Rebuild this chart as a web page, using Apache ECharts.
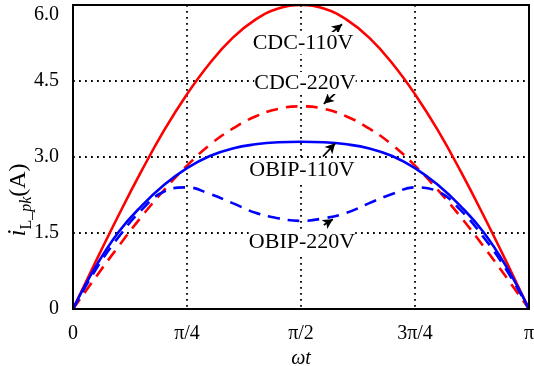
<!DOCTYPE html>
<html>
<head>
<meta charset="utf-8">
<script src="https://cdn.jsdelivr.net/npm/echarts@6/dist/echarts.min.js"></script>
<style>html,body{margin:0;padding:0;background:#fff}#c{width:534px;height:366px}</style>
</head>
<body>
<div id="c"></div>
<script>
// angle in units of pi
var angles = [0,0.05,0.1,0.15,0.2,0.25,0.3,0.35,0.4,0.45,0.5,0.55,0.6,0.65,0.7,0.75,0.8,0.85,0.9,0.95,1];
var cdc110 = [0,0.94,1.85,2.72,3.53,4.24,4.85,5.35,5.71,5.93,6.0,5.93,5.71,5.35,4.85,4.24,3.53,2.72,1.85,0.94,0];
var cdc220 = [0,0.63,1.24,1.82,2.35,2.83,3.24,3.56,3.80,3.95,4.0,3.95,3.80,3.56,3.24,2.83,2.35,1.82,1.24,0.63,0];
var obip110 = [0,0.84,1.52,2.03,2.45,2.78,3.02,3.17,3.25,3.29,3.30,3.29,3.25,3.17,3.02,2.78,2.45,2.03,1.52,0.84,0];
var obip220 = [0,0.78,1.42,1.95,2.32,2.40,2.27,2.09,1.90,1.79,1.74,1.79,1.90,2.09,2.27,2.40,2.32,1.95,1.42,0.78,0];
var xTickValues = [0,0.25,0.5,0.75,1];
var xTickLabels = ['0','π/4','π/2','3π/4','π'];
var yTickLabels = {0:'0',1.5:'1.5',3:'3.0',4.5:'4.5',6:'6.0'};
var seriesNames = ['CDC-110V','CDC-220V','OBIP-110V','OBIP-220V'];
// annotation arrows: [tailX, tailY, headX, headY] in data units
var arrows = [
  [0.559,5.39,0.590,5.62],
  [0.577,4.27,0.550,4.05],
  [0.548,3.01,0.575,3.27],
  [0.550,1.66,0.570,1.77]
];

function pairs(vals){ return angles.map(function(a,i){return [a, vals[i]];}); }
var font = 'Liberation Serif, Times New Roman, serif';
var chart = echarts.init(document.getElementById('c'), null, {renderer:'canvas'});
function lineSeries(name, vals, color, dashed){
  return {name:name, type:'line', data:pairs(vals), showSymbol:false, smooth:0.45,
    lineStyle:{color:color, width:2.6, type: dashed ? [12,8] : 'solid'}, z:3};
}
var option = {
  animation:false,
  backgroundColor:'#fff',
  grid:{left:73, right:5, top:5, bottom:57, show:true, borderColor:'#000', borderWidth:2, z:10,
    containLabel:false, outerBoundsMode:'none'},
  xAxis:{type:'value', min:0, max:1, interval:0.25,
    name:'ωt', nameLocation:'middle', nameGap:36,
    nameTextStyle:{fontFamily:font, fontSize:20, fontStyle:'italic', color:'#000'},
    axisLine:{show:true, lineStyle:{color:'#000', width:2}},
    axisTick:{show:false},
    axisLabel:{margin:15, fontFamily:font, fontSize:20, color:'#000',
      formatter:function(v){ var i = xTickValues.indexOf(Math.round(v*100)/100); return i>=0 ? xTickLabels[i] : ''; }},
    splitLine:{show:true, lineStyle:{color:'#000', width:1.8, type:[1.8,4.2]}}
  },
  yAxis:{type:'value', min:0, max:6, interval:1.5,
    axisLine:{show:true, lineStyle:{color:'#000', width:2}},
    axisTick:{show:false},
    axisLabel:{margin:14, fontFamily:font, fontSize:20, color:'#000',
      formatter:function(v){ var s = yTickLabels[v]; return v===6 ? '{t|'+s+'}' : s; },
      rich:{t:{fontFamily:font, fontSize:20, color:'#000', padding:[20,0,0,0]}}},
    splitLine:{show:true, lineStyle:{color:'#000', width:1.8, type:[1.8,4.2]}}
  },
  series:[
    lineSeries(seriesNames[0], cdc110, '#ff0000', false),
    lineSeries(seriesNames[1], cdc220, '#ff0000', true),
    lineSeries(seriesNames[2], obip110, '#0000ff', false),
    lineSeries(seriesNames[3], obip220, '#0000ff', true),
    {type:'line', data:[], silent:true, z:6,
      markLine:{silent:true, symbol:['none','arrow'], symbolSize:[8,10], animation:false,
        lineStyle:{color:'#000', width:1.8, type:'solid'}, label:{show:false},
        data: arrows.map(function(a){ return [{coord:[a[0],a[1]]},{coord:[a[2],a[3]]}]; })}}
  ],
  graphic:[
    {type:'text', x:303, y:43, z:20, style:{text:seriesNames[0], font:'22px '+font, fill:'#000', align:'center', verticalAlign:'middle', backgroundColor:'#fff'}},
    {type:'text', x:305, y:83, z:20, style:{text:seriesNames[1], font:'22px '+font, fill:'#000', align:'center', verticalAlign:'middle', backgroundColor:'#fff'}},
    {type:'text', x:302, y:170, z:20, style:{text:seriesNames[2], font:'22px '+font, fill:'#000', align:'center', verticalAlign:'middle', backgroundColor:'#fff'}},
    {type:'text', x:302, y:242, z:20, style:{text:seriesNames[3], font:'22px '+font, fill:'#000', align:'center', verticalAlign:'middle', backgroundColor:'#fff'}},
    {type:'text', x:18, y:200, rotation:Math.PI/2, z:20,
      style:{text:'{i|i}{s|L}{si|_pk}{n|(A)}', align:'center', verticalAlign:'middle', fill:'#000',
        rich:{
          i:{fontFamily:font, fontSize:25, fontStyle:'italic', fill:'#000', verticalAlign:'bottom'},
          s:{fontFamily:font, fontSize:16, fill:'#000', verticalAlign:'bottom', padding:[0,0,-4,0]},
          si:{fontFamily:font, fontSize:16, fontStyle:'italic', fill:'#000', verticalAlign:'bottom', padding:[0,0,-4,0]},
          n:{fontFamily:font, fontSize:24, fill:'#000', verticalAlign:'bottom'}
        }}}
  ]
};
chart.setOption(option);
</script>
</body>
</html>
